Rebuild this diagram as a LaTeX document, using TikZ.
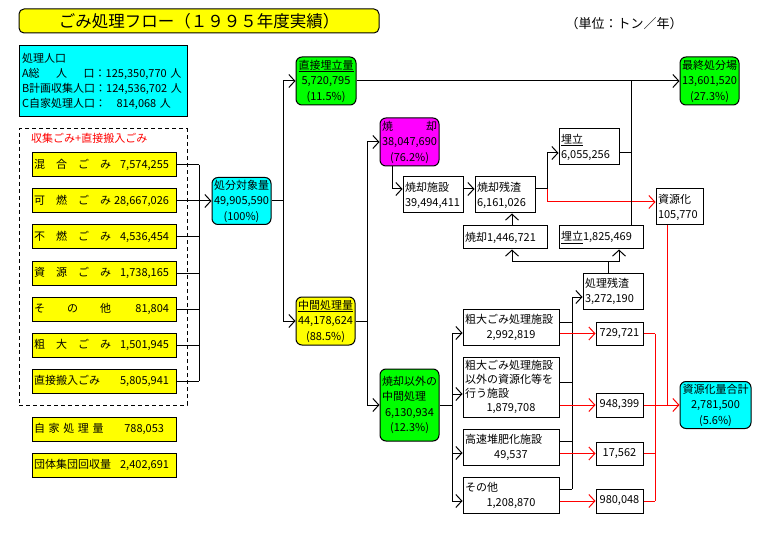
\documentclass[tikz,border=0pt]{standalone}
\usepackage{fontspec}
\setmainfont{Noto Sans CJK JP}
\usetikzlibrary{arrows.meta}
\definecolor{boxYellow}{HTML}{FFFF00}
\definecolor{boxCyan}{HTML}{00FFFF}
\definecolor{boxGreen}{HTML}{00FF00}
\definecolor{boxMagenta}{HTML}{FF00FF}
\definecolor{recRed}{HTML}{FF0000}
\tikzset{
  roundbox/.style={draw=black, line width=1pt, rounded corners=6pt,
    inner sep=1pt, align=center, font=\fontsize{11}{15.5}\selectfont},
  wastebox/.style={draw=black, line width=1pt, fill=boxYellow,
    minimum width=144pt, minimum height=24pt, text width=140pt,
    inner xsep=2pt, inner ysep=0pt, align=left},
  procbox/.style={draw=black, line width=1pt, fill=white, inner sep=1pt},
  numbox/.style={draw=black, line width=1pt, fill=white,
    minimum width=47pt, minimum height=23pt, inner sep=1pt},
  notetext/.style={font=\fontsize{13}{15}\selectfont},
  wire/.style={line width=1pt},
  recWire/.style={wire, draw=recRed},
  arc/.style={wire, -{Straight Barb[length=6pt, width=13pt]}},
  recArc/.style={arc, draw=recRed},
}

\begin{document}
\begin{tikzpicture}[x=1pt, y=-1pt, font=\fontsize{11}{15}\selectfont]
  \useasboundingbox (0,0) rectangle (765,537);
  % heading and population
  \node[roundbox, fill=boxYellow, rounded corners=5pt, minimum width=360pt,
    minimum height=24pt, font=\fontsize{16.5}{18}\selectfont] (title) at (199,21) {ごみ処理フロー（１９９５年度実績）};
  \node[notetext] (unitnote) at (624,24) {（単位：トン／年）};
  \node[draw=black, line width=1pt, fill=boxCyan, minimum width=168pt,
    minimum height=71pt, text width=162pt, inner xsep=3pt, align=left] (pop) at (103,81.5)
    {処理人口\\
     \makebox[149pt][l]{A\makebox[66pt][s]{総\hfill 人\hfill 口}：\hfill 125,350,770 人}\\
     \makebox[149pt][l]{B\makebox[66pt][s]{計画収集人口}：\hfill 124,536,702 人}\\
     \makebox[149pt][l]{C\makebox[66pt][s]{自家処理人口}：\hfill 814,068 人}};

  % collected and carried-in waste
  \node[draw=black, line width=1pt, dash pattern=on 4pt off 3pt,
    minimum width=168pt, minimum height=276pt] (collectarea) at (103,267) {};
  \node[anchor=west, text=recRed, inner sep=0pt] (collectnote) at (31,138) {収集ごみ+直接搬入ごみ};
  \node[wastebox] (mixed) at (104,165) {混　合　ご　み\hfill 7,574,255\hspace{5pt}\mbox{}};
  \node[wastebox] (burnable) at (104,201) {可　燃　ご　み\hfill 28,667,026\hspace{5pt}\mbox{}};
  \node[wastebox] (unburn) at (104,237) {不　燃　ご　み\hfill 4,536,454\hspace{5pt}\mbox{}};
  \node[wastebox] (resrc) at (104,273) {資　源　ご　み\hfill 1,738,165\hspace{5pt}\mbox{}};
  \node[wastebox] (misc) at (104,309) {そ　　の　　他\hfill 81,804\hspace{5pt}\mbox{}};
  \node[wastebox] (bulky) at (104,345) {粗　大　ご　み\hfill 1,501,945\hspace{5pt}\mbox{}};
  \node[wastebox] (carryin) at (104,381) {直接搬入ごみ\hfill 5,805,941\hspace{5pt}\mbox{}};
  \node[wastebox] (selfproc) at (104,429) {自 家 処 理 量\hfill 788,053\hspace{10pt}\mbox{}};
  \node[wastebox] (groupcol) at (104,465) {団体集団回収量\hfill 2,402,691\hspace{5pt}\mbox{}};

  % main flow
  \node[roundbox, fill=boxCyan, minimum width=59pt, minimum height=47pt] (target) at (241.5,201) {処分対象量\\49,905,590\\(100\%)};
  \node[roundbox, fill=boxGreen, minimum width=60pt, minimum height=48pt] (landfill) at (326,81) {\underline{直接埋立量}\\5,720,795\\(11.5\%)};
  \node[roundbox, fill=boxYellow, minimum width=59pt, minimum height=48pt] (interm) at (325.5,321) {\underline{中間処理量}\\44,178,624\\(88.5\%)};
  \node[roundbox, fill=boxMagenta, minimum width=59pt, minimum height=48pt] (burn) at (409.5,142) {\makebox[55pt]{焼\hfill 却}\\38,047,690\\(76.2\%)};
  \node[roundbox, fill=boxGreen, minimum width=59pt, minimum height=72pt] (nonburn) at (409.5,405)
    {\makebox[55pt][l]{焼却以外の}\\\makebox[55pt][l]{中間処理}\\6,130,934\\(12.3\%)};
  \node[roundbox, fill=boxGreen, minimum width=59pt, minimum height=48pt] (final) at (709.5,81) {最終処分場\\13,601,520\\(27.3\%)};
  \node[roundbox, fill=boxCyan, minimum width=71pt, minimum height=47pt] (recytotal) at (715.5,405) {資源化量合計\\2,781,500\\(5.6\%)};

  % incineration
  \node[procbox, minimum width=60pt, minimum height=36pt, text width=56pt, align=left] (incin) at (433,195) {焼却施設\\39,494,411};
  \node[procbox, minimum width=60pt, minimum height=36pt, text width=56pt, align=left] (ash) at (505,195) {焼却残渣\\6,161,026};
  \node[procbox, minimum width=60pt, minimum height=36pt, text width=56pt, align=left] (land) at (589,147) {\underline{埋立}\\6,055,256};
  \node[procbox, minimum width=47pt, minimum height=36pt, text width=43pt, align=left] (recyc) at (679.5,207) {資源化\\105,770};
  \node[procbox, minimum width=84pt, minimum height=23pt, text width=80pt, align=left] (ashburn) at (505,237.5) {焼却1,446,721};
  \node[procbox, minimum width=84pt, minimum height=23pt, text width=80pt, align=left] (ashland) at (601,237.5) {\underline{埋立}1,825,469};
  \node[procbox, minimum width=60pt, minimum height=36pt, text width=56pt, align=left] (resid) at (613,291) {処理残渣\\3,272,190};

  % other intermediate treatment
  \node[procbox, minimum width=96pt, minimum height=36pt, text width=92pt, align=center] (bulkyfac) at (511,327)
    {\makebox[92pt][l]{粗大ごみ処理施設}\\2,992,819};
  \node[procbox, minimum width=96pt, minimum height=60pt, text width=92pt, align=center,
    font=\fontsize{11}{14}\selectfont] (recfac) at (511,387)
    {\makebox[92pt][l]{粗大ごみ処理施設}\\\makebox[92pt][l]{以外の資源化等を}\\\makebox[92pt][l]{行う施設}\\1,879,708};
  \node[procbox, minimum width=96pt, minimum height=36pt, text width=92pt, align=center] (compost) at (511,447)
    {\makebox[92pt][l]{高速堆肥化施設}\\49,537};
  \node[procbox, minimum width=96pt, minimum height=36pt, text width=92pt, align=center] (otherfac) at (511,495)
    {\makebox[92pt][l]{その他}\\1,208,870};
  \node[numbox] (rbulky) at (619.5,333.5) {729,721};
  \node[numbox, minimum height=24pt] (rrec) at (619.5,405) {948,399};
  \node[numbox] (rcompost) at (619.5,453.5) {17,562};
  \node[numbox, minimum height=24pt] (rother) at (619.5,501) {980,048};

  % junction points
  \coordinate (wbus) at (199,165);
  \coordinate (tbus) at (283,201);
  \coordinate (mbus) at (367,321);
  \coordinate (bdrop) at (392,166);
  \coordinate (abus) at (547,189);
  \coordinate (lbus) at (631,81);
  \coordinate (rjoin) at (608,261);
  \coordinate (obus) at (452,405);
  \coordinate (rbus) at (572,297);
  \coordinate (sbus) at (655,333);
  \coordinate (rdrop) at (667,225);
  \coordinate (incinin) at ([yshift=6pt]incin.west);
  \coordinate (ashout) at ([yshift=6pt]ash.east);
  \coordinate (landin) at ([yshift=-6pt]land.west);
  \coordinate (landout) at ([yshift=-6pt]land.east);
  \coordinate (recycin) at ([yshift=5pt]recyc.west);
  \coordinate (residin) at ([yshift=-6pt]resid.west);
  \coordinate (bulkyin) at ([yshift=-6pt]bulkyfac.west);
  \coordinate (recin) at ([yshift=-7pt]recfac.west);
  \coordinate (compostin) at ([yshift=-6pt]compost.west);
  \coordinate (otherin) at ([yshift=-6pt]otherfac.west);
  \coordinate (bulkyout) at ([yshift=5pt]bulkyfac.east);
  \coordinate (recout) at ([yshift=5pt]recfac.east);
  \coordinate (compostout) at ([yshift=6pt]compost.east);
  \coordinate (otherout) at ([yshift=6pt]otherfac.east);

  % connectors
  \draw[wire] (mixed.east) -- (mixed.east -| wbus);
  \draw[wire] (burnable.east) -- (burnable.east -| wbus);
  \draw[wire] (unburn.east) -- (unburn.east -| wbus);
  \draw[wire] (resrc.east) -- (resrc.east -| wbus);
  \draw[wire] (misc.east) -- (misc.east -| wbus);
  \draw[wire] (bulky.east) -- (bulky.east -| wbus);
  \draw[wire] (carryin.east) -- (carryin.east -| wbus);
  \draw[wire] (mixed.east -| wbus) -- (carryin.east -| wbus);
  \draw[arc] (burnable.east -| wbus) -- (target.west);

  \draw[arc] (target.east) -- (target.east -| tbus) |- (landfill.west);
  \draw[arc] (target.east -| tbus) |- (interm.west);
  \draw[arc] (landfill.east) -- (final.west);
  \draw[arc] (interm.east) -- (interm.east -| mbus) |- (burn.west);
  \draw[arc] (interm.east -| mbus) |- (nonburn.west);

  \draw[arc] (burn.south -| bdrop) |- (incinin);
  \draw[arc] ([yshift=6pt]incin.east) -- ([yshift=6pt]ash.west);
  \draw[arc] (ashout) -- (ashout -| abus) |- (landin);
  \draw[recArc] (ashout -| abus) |- (recycin);
  \draw[wire] (lbus |- landfill.east) -- (lbus |- ashland.north);
  \draw[wire] (landout) -- (landout -| lbus);
  \draw[arc] ([xshift=7pt]ashburn.north) -- ([xshift=7pt]ash.south);
  \draw[wire] (resid.north -| rjoin) -- (rjoin);
  \draw[arc] (rjoin) -| ([xshift=7pt]ashburn.south);
  \draw[arc] (rjoin) -| ([xshift=18pt]ashland.south);

  \draw[wire] (nonburn.east) -- (nonburn.east -| obus);
  \draw[wire] (bulkyin -| obus) -- (otherin -| obus);
  \draw[arc] (bulkyin -| obus) -- (bulkyin);
  \draw[arc] (recin -| obus) -- (recin);
  \draw[arc] (compostin -| obus) -- (compostin);
  \draw[arc] (otherin -| obus) -- (otherin);
  \draw[wire] (bulkyout) -- (bulkyout -| rbus);
  \draw[wire] (recout) -- (recout -| rbus);
  \draw[wire] (compostout) -- (compostout -| rbus);
  \draw[wire] (otherout) -- (otherout -| rbus);
  \draw[wire] (residin -| rbus) -- (otherout -| rbus);
  \draw[arc] (residin -| rbus) -- (residin);

  \draw[recArc] (bulkyfac.east |- rbulky.west) -- (rbulky.west);
  \draw[recArc] (recfac.east |- rrec.west) -- (rrec.west);
  \draw[recArc] (compost.east |- rcompost.west) -- (rcompost.west);
  \draw[recArc] (otherfac.east |- rother.west) -- (rother.west);
  \draw[recWire] (rbulky.east) -- (rbulky.east -| sbus);
  \draw[recWire] (rcompost.east) -- (rcompost.east -| sbus);
  \draw[recWire] (rother.east) -- (rother.east -| sbus);
  \draw[recWire] (rbulky.east -| sbus) -- (rother.east -| sbus);
  \draw[recArc] (rrec.east) -- (recytotal.west);
  \draw[recWire] (recyc.south -| rdrop) -- (rdrop |- recytotal.west);
\end{tikzpicture}
\end{document}
